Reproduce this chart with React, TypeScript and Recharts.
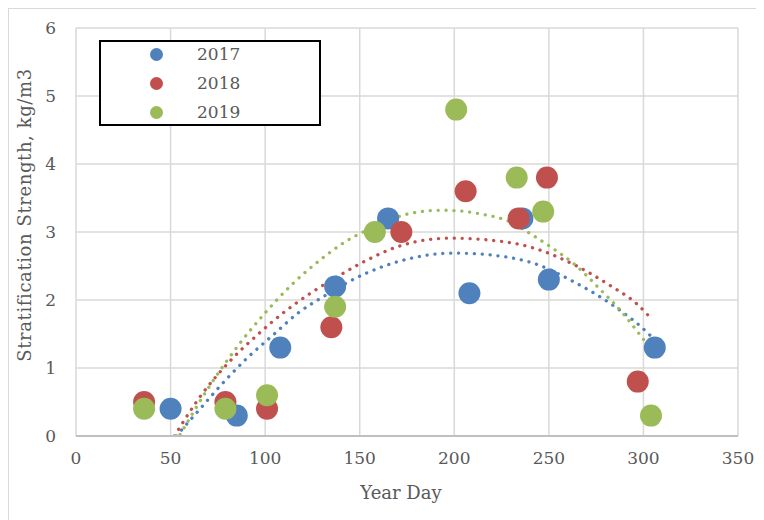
import {
  ComposedChart, Scatter, Line, XAxis, YAxis, CartesianGrid, Legend
} from "recharts";

const days2017 = [50, 85, 108, 137, 165, 208, 236, 250, 306];
const vals2017 = [0.4, 0.3, 1.3, 2.2, 3.2, 2.1, 3.2, 2.3, 1.3];
const days2018 = [36, 79, 101, 135, 172, 206, 234, 249, 297];
const vals2018 = [0.5, 0.5, 0.4, 1.6, 3.0, 3.6, 3.2, 3.8, 0.8];
const days2019 = [36, 79, 101, 137, 158, 201, 233, 247, 304];
const vals2019 = [0.4, 0.4, 0.6, 1.9, 3.0, 4.8, 3.8, 3.3, 0.3];

// trendlines (poly, 2nd order)
const trendX2017 = [53, 65, 79, 91, 104, 117, 132, 143, 154, 175, 200, 223, 243, 263, 278, 289, 299, 305];
const trendY2017 = [0, 0.38, 0.82, 1.16, 1.48, 1.8, 2.07, 2.25, 2.4, 2.6, 2.69, 2.65, 2.53, 2.27, 2.03, 1.82, 1.6, 1.44];
const trendX2018 = [52, 67, 81, 96, 110, 124, 138, 152, 173, 198, 219, 240, 264, 282, 297, 303];
const trendY2018 = [0, 0.63, 1.09, 1.49, 1.82, 2.1, 2.34, 2.56, 2.81, 2.91, 2.88, 2.78, 2.51, 2.22, 1.93, 1.76];
const trendX2019 = [55, 71, 86, 100, 115, 131, 142, 154, 178, 194, 215, 231, 237, 251, 265, 277, 289, 297, 305];
const trendY2019 = [0.02, 0.75, 1.34, 1.81, 2.25, 2.63, 2.85, 3.03, 3.28, 3.32, 3.26, 3.13, 3.03, 2.78, 2.49, 2.16, 1.81, 1.53, 1.24];

const xTicks = [0, 50, 100, 150, 200, 250, 300, 350];
const yTicks = [0, 1, 2, 3, 4, 5, 6];

const BLUE = "#4f81bd";
const RED = "#c0504d";
const GREEN = "#9bbb59";
const TEXT = "#595959";
const FONT = "'DejaVu Serif', serif";

const pts = (xs: number[], ys: number[]) => xs.map((x, i) => ({ x, y: ys[i] }));

const series = [
  { name: "2017", color: BLUE, data: pts(days2017, vals2017), trend: pts(trendX2017, trendY2017) },
  { name: "2018", color: RED, data: pts(days2018, vals2018), trend: pts(trendX2018, trendY2018) },
  { name: "2019", color: GREEN, data: pts(days2019, vals2019), trend: pts(trendX2019, trendY2019) },
];

const dot = (color: string) => (p: any) => (
  <circle cx={p.cx} cy={p.cy} r={11} fill={color} />
);

const XLabel = () => (
  <text x={392} y={483} textAnchor="middle" dominantBaseline="central"
    fill={TEXT} fontSize={18} fontFamily={FONT}>Year Day</text>
);

const YLabel = () => (
  <text x={15} y={206} transform="rotate(-90 15 206)" textAnchor="middle"
    dominantBaseline="central" fill={TEXT} fontSize={18} letterSpacing={0.6} fontFamily={FONT}>
    Stratification Strength, kg/m3
  </text>
);

const LegendBox = () => (
  <div style={{
    position: "relative", width: 222, height: 86, border: "2px solid #000",
    boxSizing: "border-box", background: "#fff", fontFamily: FONT, fontSize: 17, color: TEXT,
  }}>
    {series.map((s, i) => (
      <div key={s.name} style={{ position: "absolute", left: 0, top: 12 + i * 29 - 10, height: 20, width: "100%" }}>
        <span style={{
          position: "absolute", left: 49, top: 4, width: 13, height: 13,
          borderRadius: "50%", background: s.color,
        }} />
        <span style={{ position: "absolute", left: 96, top: 0, lineHeight: "20px" }}>{s.name}</span>
      </div>
    ))}
  </div>
);

export default function App() {
  return (
    <div style={{
      width: 756, height: 512, boxSizing: "border-box",
      borderTop: "1px solid #d9d9d9", borderLeft: "1px solid #d9d9d9", background: "#fff",
    }}>
      <ComposedChart width={755} height={511} margin={{ top: 19, right: 26, bottom: 24, left: 0 }}>
        <CartesianGrid stroke="#d9d9d9" strokeWidth={1.5} />
        <XAxis type="number" dataKey="x" domain={[0, 350]} ticks={xTicks} height={60}
          axisLine={{ stroke: "#bfbfbf", strokeWidth: 2 }} tickLine={false} tickSize={0} tickMargin={16}
          tick={{ fill: TEXT, fontSize: 17, fontFamily: FONT }} label={<XLabel />} allowDataOverflow />
        <YAxis type="number" dataKey="y" domain={[0, 6]} ticks={yTicks} width={67}
          axisLine={false} tickLine={false} tickSize={0} tickMargin={20}
          tick={{ fill: TEXT, fontSize: 17, fontFamily: FONT }} label={<YLabel />} allowDataOverflow />
        <Legend layout="vertical" align="center" verticalAlign="middle" content={<LegendBox />}
          wrapperStyle={{ left: 90, top: 31, width: 222, height: 86 }} />
        {series.map((s) => (
          <Scatter key={"s" + s.name} name={s.name} data={s.data} dataKey="y" fill={s.color}
            shape={dot(s.color)} isAnimationActive={false} />
        ))}
        {series.map((s) => (
          <Line key={"t" + s.name} data={s.trend} dataKey="y" type="monotone" stroke={s.color}
            strokeWidth={3.3} strokeDasharray="0.1 7.8" strokeLinecap="round" dot={false}
            activeDot={false} legendType="none" isAnimationActive={false} />
        ))}
      </ComposedChart>
    </div>
  );
}
